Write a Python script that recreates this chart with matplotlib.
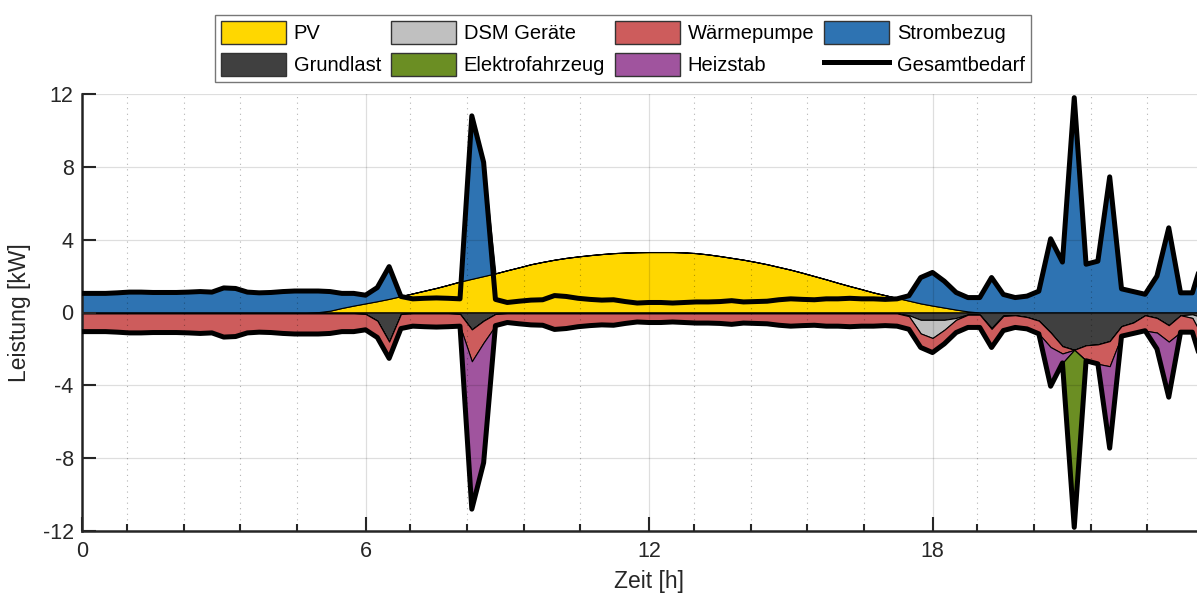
import numpy as np
import matplotlib.pyplot as plt
from matplotlib.patches import Patch
from matplotlib.lines import Line2D

plt.rcParams['font.family'] = ['Liberation Sans', 'DejaVu Sans']
plt.rcParams['axes.unicode_minus'] = False

# === Zeitachse: 15-min Raster von 0 bis 24 h ===
zeit = np.arange(97) * 0.25

# === Erzeugung (positiv) ===
pv = [0.00, 0.00, 0.00, 0.00, 0.00, 0.00, 0.00, 0.00, 0.00, 0.00,
      0.00, 0.00, 0.00, 0.00, 0.00, 0.00, 0.00, 0.00, 0.00, 0.00,
      0.02, 0.10, 0.25, 0.38, 0.50, 0.62, 0.75, 0.90, 1.05, 1.20,
      1.35, 1.52, 1.70, 1.85, 2.00, 2.15, 2.32, 2.48, 2.65, 2.78,
      2.90, 3.00, 3.08, 3.15, 3.21, 3.26, 3.29, 3.31, 3.32, 3.32,
      3.32, 3.30, 3.26, 3.19, 3.10, 3.00, 2.90, 2.78, 2.65, 2.50,
      2.35, 2.18, 2.00, 1.82, 1.63, 1.45, 1.28, 1.10, 0.95, 0.80,
      0.65, 0.50, 0.38, 0.27, 0.16, 0.06, 0.00, 0.00, 0.00, 0.00,
      0.00, 0.00, 0.00, 0.00, 0.00, 0.00, 0.00, 0.00, 0.00, 0.00,
      0.00, 0.00, 0.00, 0.00, 0.00, 0.00, 0.00]

strombezug = [1.05, 1.05, 1.05, 1.08, 1.12, 1.12, 1.10, 1.10, 1.10, 1.12,
              1.15, 1.12, 1.35, 1.32, 1.12, 1.08, 1.10, 1.15, 1.18, 1.18,
              1.16, 1.05, 0.80, 0.67, 0.45, 0.75, 1.77, 0.00, 0.00, 0.00,
              0.00, 0.00, 0.00, 8.95, 6.25, 0.00, 0.00, 0.00, 0.00, 0.00,
              0.00, 0.00, 0.00, 0.00, 0.00, 0.00, 0.00, 0.00, 0.00, 0.00,
              0.00, 0.00, 0.00, 0.00, 0.00, 0.00, 0.00, 0.00, 0.00, 0.00,
              0.00, 0.00, 0.00, 0.00, 0.00, 0.00, 0.00, 0.00, 0.00, 0.00,
              0.27, 1.42, 1.82, 1.45, 0.94, 0.76, 0.82, 1.92, 0.99, 0.82,
              0.90, 1.17, 4.05, 2.77, 11.80, 2.65, 2.82, 7.45, 1.30, 1.15,
              1.00, 2.00, 4.65, 1.08, 1.08, 3.20, 1.50]

# === Verbrauch (negativ dargestellt) ===
grundlast = [0.05] * 24 + [
    0.08, 0.45, 1.60, 0.08, 0.05, 0.05, 0.05, 0.05, 0.08, 0.93,
    0.45, 0.08] + [0.05] * 34 + [
    0.15, 0.40, 0.40, 0.40, 0.30, 0.10, 0.12, 0.85, 0.15, 0.15,
    0.25, 0.45, 1.10, 1.85, 2.05, 1.80, 1.75, 1.57, 0.75, 0.55,
    0.15, 0.30, 0.70, 0.15, 0.10, 0.30, 0.20]

dsm = [0.00] * 70 + [
    0.05, 0.75, 1.00, 0.55, 0.10, 0.02, 0.00, 0.05, 0.04, 0.00,
    0.00, 0.00, 0.00, 0.00, 0.00, 0.00, 0.00, 0.00, 0.00, 0.00,
    0.00, 0.00, 0.00, 0.00, 0.20, 1.20, 0.40]

waermepumpe = [1.00, 1.00, 1.00, 1.03, 1.07, 1.07, 1.05, 1.05, 1.05, 1.07,
               1.10, 1.07, 1.30, 1.27, 1.07, 1.03, 1.05, 1.10, 1.13, 1.13,
               1.13, 1.10, 1.00, 1.00, 0.87, 0.92, 0.92, 0.80, 0.70, 0.73,
               0.75, 0.73, 0.67, 1.75, 1.20, 0.64, 0.50, 0.57, 0.63, 0.65,
               0.88, 0.83, 0.73, 0.67, 0.63, 0.65, 0.55, 0.47, 0.50, 0.50,
               0.47, 0.50, 0.53, 0.53, 0.55, 0.60, 0.53, 0.55, 0.57, 0.65,
               0.70, 0.67, 0.65, 0.70, 0.70, 0.73, 0.70, 0.70, 0.67, 0.70,
               0.72, 0.77, 0.80, 0.77, 0.70, 0.70, 0.70, 1.02, 0.80, 0.67,
               0.65, 0.72, 0.80, 0.40, 0.00, 0.85, 1.07, 1.38, 0.55, 0.60,
               0.85, 0.80, 0.90, 0.93, 0.78, 1.70, 0.90]

heizstab = [0.00] * 33 + [8.12, 6.60] + [0.00] * 47 + [
    2.15, 0.52, 0.00, 0.00, 0.00, 4.50, 0.00, 0.00, 0.00, 0.90,
    3.05, 0.00, 0.00, 0.00, 0.00]

elektrofahrzeug = [0.00] * 84 + [9.75] + [0.00] * 12

gesamtbedarf = [1.05, 1.05, 1.05, 1.08, 1.12, 1.12, 1.10, 1.10, 1.10, 1.12,
                1.15, 1.12, 1.35, 1.32, 1.12, 1.08, 1.10, 1.15, 1.18, 1.18,
                1.18, 1.15, 1.05, 1.05, 0.95, 1.37, 2.52, 0.88, 0.75, 0.78,
                0.80, 0.78, 0.75, 10.80, 8.25, 0.72, 0.55, 0.62, 0.68, 0.70,
                0.93, 0.88, 0.78, 0.72, 0.68, 0.70, 0.60, 0.52, 0.55, 0.55,
                0.52, 0.55, 0.58, 0.58, 0.60, 0.65, 0.58, 0.60, 0.62, 0.70,
                0.75, 0.72, 0.70, 0.75, 0.75, 0.78, 0.75, 0.75, 0.72, 0.75,
                0.92, 1.92, 2.20, 1.72, 1.10, 0.82, 0.82, 1.92, 0.99, 0.82,
                0.90, 1.17, 4.05, 2.77, 11.80, 2.65, 2.82, 7.45, 1.30, 1.15,
                1.00, 2.00, 4.65, 1.08, 1.08, 3.20, 1.50]

# === Farben ===
c_pv = '#FFD700'
c_grund = '#404040'
c_dsm = '#C0C0C0'
c_ev = '#6B8E23'
c_wp = '#CD5C5C'
c_hs = '#A0549E'
c_netz = '#2E73B2'

fig = plt.figure(figsize=(11.97, 5.96), dpi=100)
ax = fig.add_axes([82 / 1197, 65 / 596, 1134 / 1197, 437 / 596])

ax.stackplot(zeit, pv, strombezug, colors=[c_pv, c_netz],
             edgecolor='k', linewidth=0.8, zorder=2)
neg = [-np.array(s) for s in (grundlast, dsm, waermepumpe, heizstab, elektrofahrzeug)]
ax.stackplot(zeit, *neg, colors=[c_grund, c_dsm, c_wp, c_hs, c_ev],
             edgecolor='k', linewidth=0.8, zorder=2)

gb = np.array(gesamtbedarf)
ax.plot(zeit, gb, color='k', lw=3.6, solid_joinstyle='round', zorder=4)
ax.plot(zeit, -gb, color='k', lw=3.6, solid_joinstyle='round', zorder=4)

# === Achsen ===
ax.set_xlim(0, 24)
ax.set_ylim(-12, 12)
ax.set_xticks([0, 6, 12, 18])
minor = [b + o for b in (0, 6, 12, 18) for o in (0.95, 2.15, 3.35, 4.55)]
ax.set_xticks(minor, minor=True)
ax.set_yticks(np.arange(-12, 13, 4))
ax.tick_params(axis='both', which='both', direction='in', colors='#262626',
               labelsize=15.5, width=1.5)
ax.tick_params(axis='x', which='major', length=10, pad=7)
ax.tick_params(axis='x', which='minor', length=5)
ax.tick_params(axis='y', which='major', length=10, pad=6)

ax.set_axisbelow(False)
ax.grid(True, which='major', color='k', alpha=0.13, lw=0.9, zorder=3)
ax.grid(True, which='minor', axis='x', color='k', alpha=0.3, lw=0.8,
        linestyle=(0, (1, 4)), zorder=3)

for s in ('top', 'right'):
    ax.spines[s].set_visible(False)
for s in ('left', 'bottom'):
    ax.spines[s].set_color('#262626')
    ax.spines[s].set_linewidth(1.8)

ax.set_xlabel('Zeit [h]', fontsize=16.5, color='#262626', labelpad=6)
ax.set_ylabel('Leistung [kW]', fontsize=16.5, color='#262626', labelpad=8)

# === Legende ===
handles = [
    Patch(facecolor=c_pv, edgecolor='#333333', label='PV'),
    Patch(facecolor=c_grund, edgecolor='#333333', label='Grundlast'),
    Patch(facecolor=c_dsm, edgecolor='#333333', label='DSM Geräte'),
    Patch(facecolor=c_ev, edgecolor='#333333', label='Elektrofahrzeug'),
    Patch(facecolor=c_wp, edgecolor='#333333', label='Wärmepumpe'),
    Patch(facecolor=c_hs, edgecolor='#333333', label='Heizstab'),
    Patch(facecolor=c_netz, edgecolor='#333333', label='Strombezug'),
    Line2D([0], [0], color='k', lw=3.6, label='Gesamtbedarf'),
]
leg = fig.legend(handles=handles, ncol=4, loc='center',
                 bbox_to_anchor=(623 / 1197, 1 - 48.5 / 596),
                 fontsize=14.5, frameon=True, fancybox=False,
                 handlelength=3.2, handleheight=1.35, handletextpad=0.4,
                 columnspacing=0.5, labelspacing=0.45, borderpad=0.3,
                 borderaxespad=0)
leg.get_frame().set_edgecolor('#555555')
leg.get_frame().set_linewidth(1.0)

fig.savefig('out.png', dpi=100)
